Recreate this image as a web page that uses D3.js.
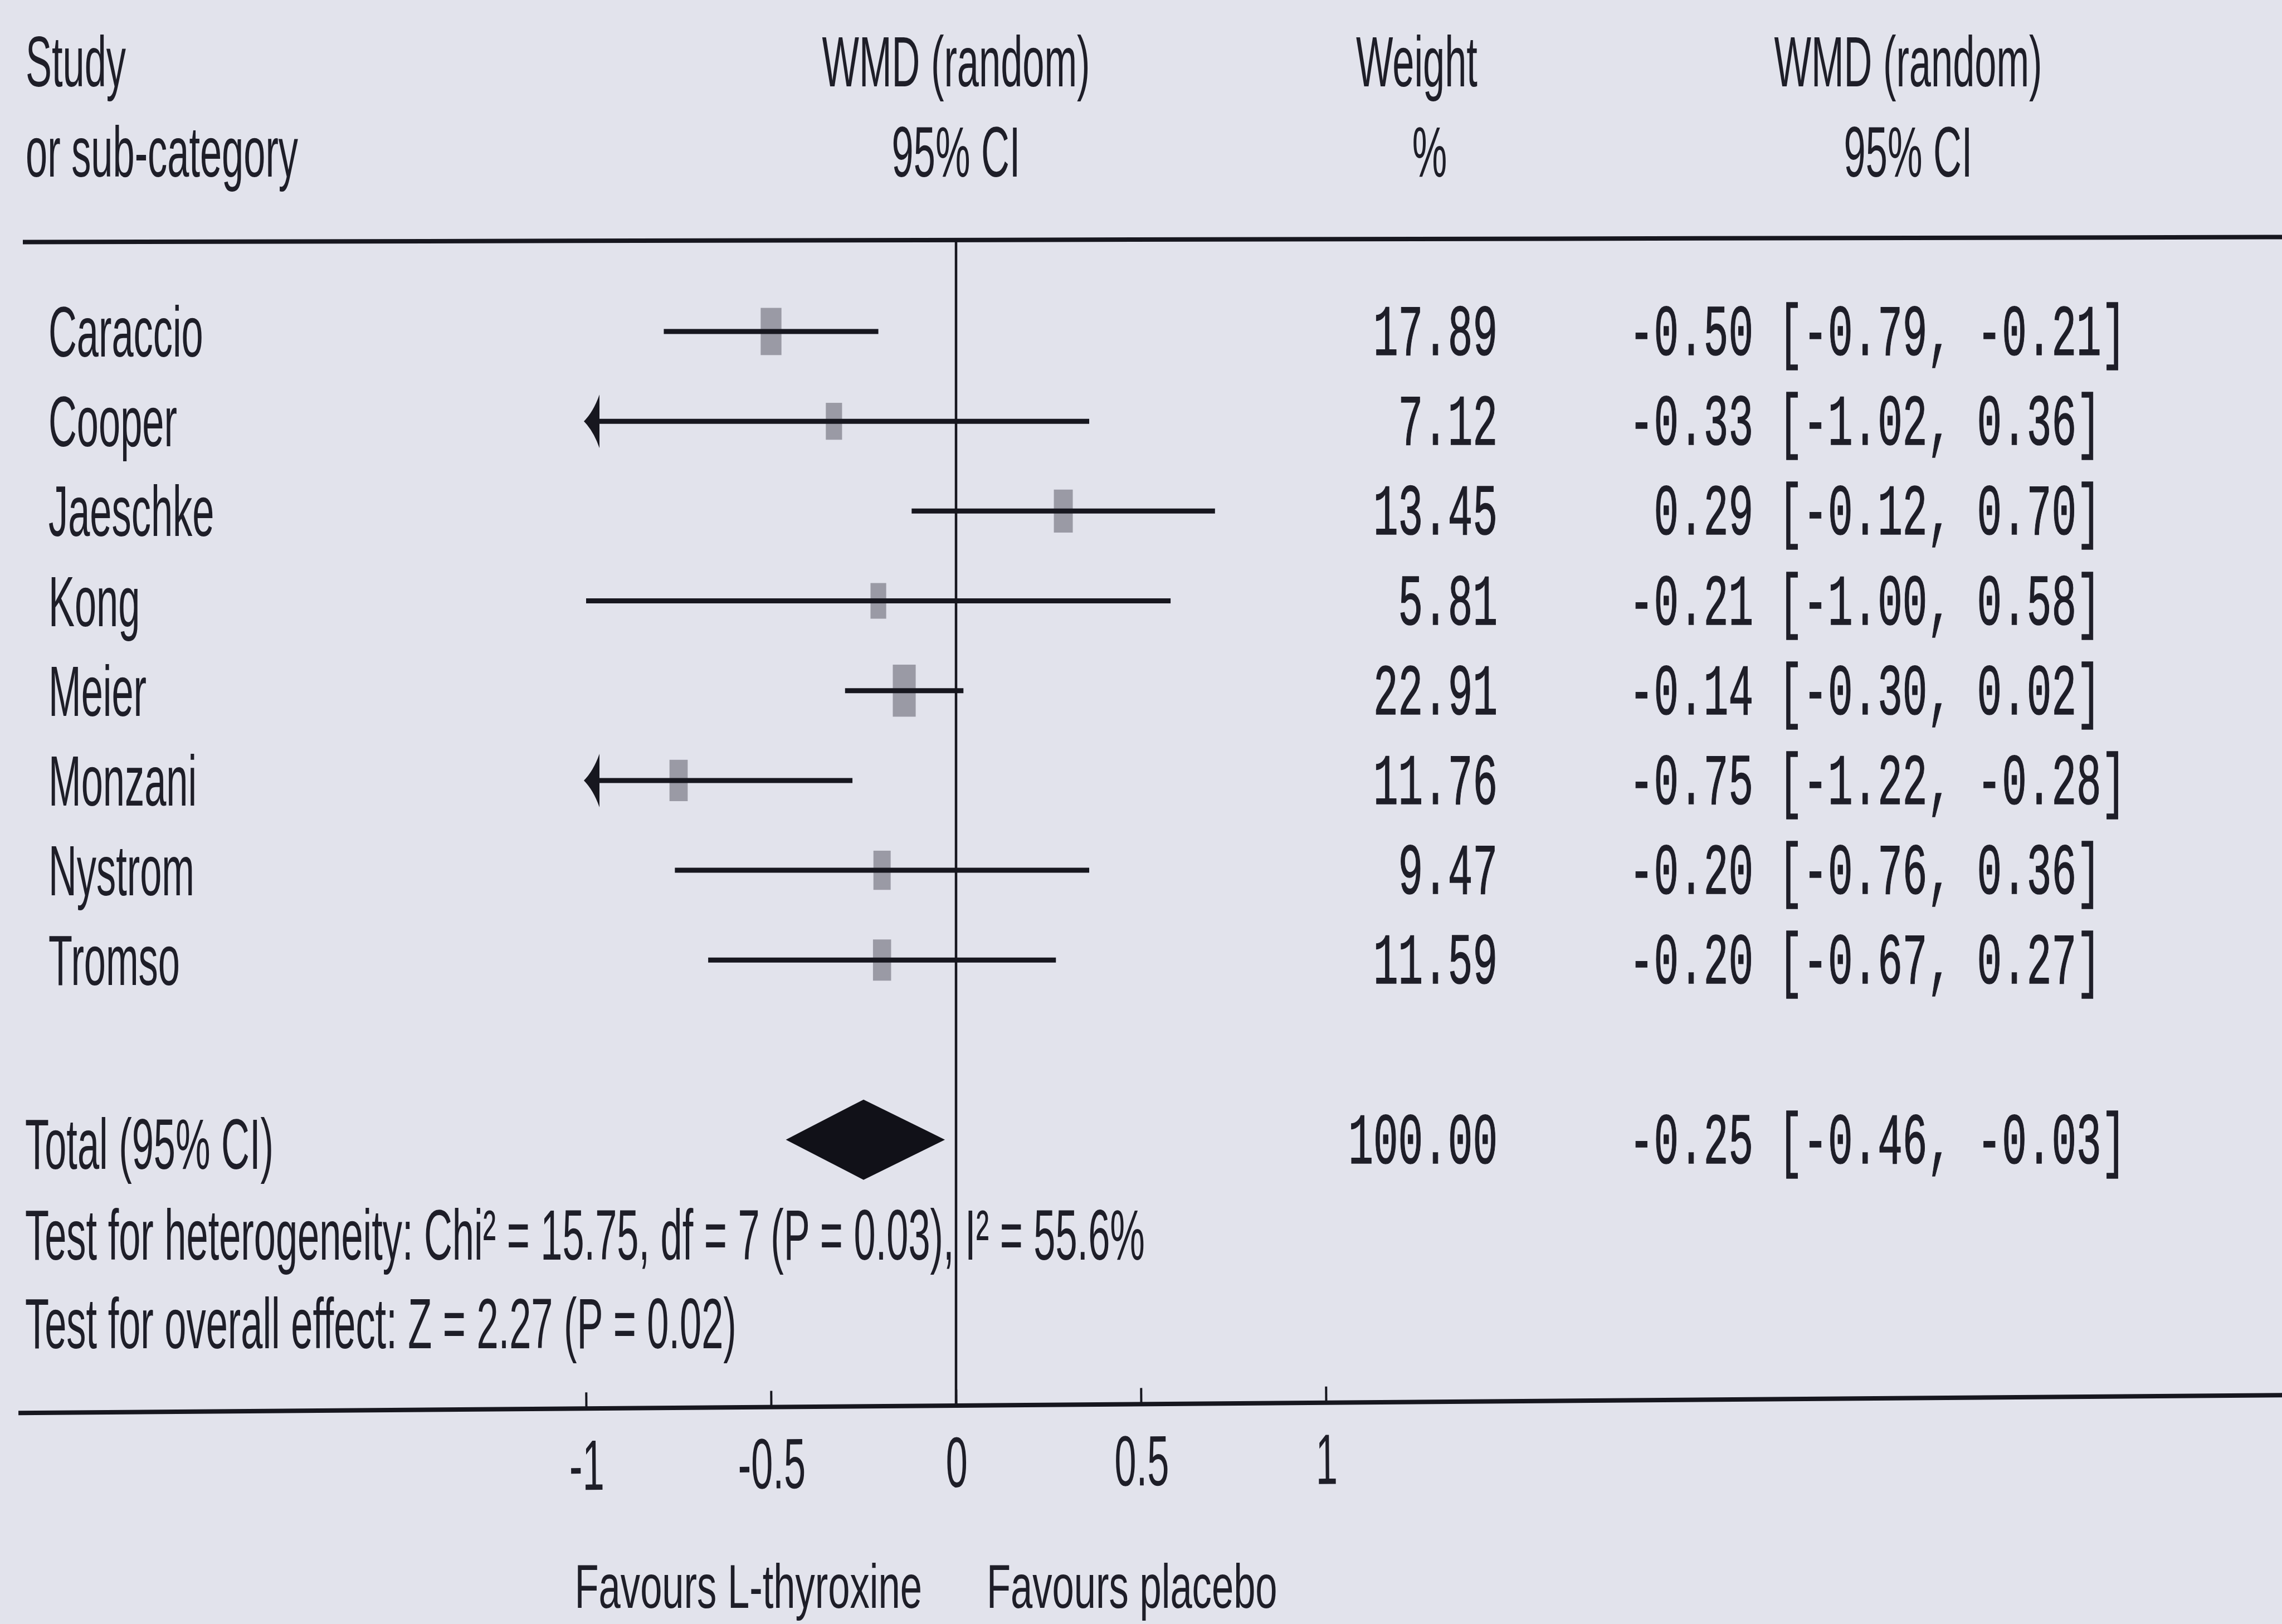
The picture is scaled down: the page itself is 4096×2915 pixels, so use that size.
<!DOCTYPE html>
<html>
<head>
<meta charset="utf-8">
<script src="https://cdn.jsdelivr.net/npm/d3@7"></script>
<style>
  html, body { margin: 0; padding: 0; background: #e2e3ec; }
  svg { display: block; }
  text { font-family: "Liberation Sans", Arial, sans-serif; fill: #1e1e28; }
  text.mono { font-family: "Liberation Mono", "Courier New", monospace; white-space: pre; stroke: #1e1e28; stroke-width: 1.6; }
</style>
</head>
<body>
<script>
// ---- data ----
const studies   = ["Caraccio", "Cooper", "Jaeschke", "Kong", "Meier", "Monzani", "Nystrom", "Tromso"];
const estimates = [-0.50, -0.33, 0.29, -0.21, -0.14, -0.75, -0.20, -0.20];
const lowerCI   = [-0.79, -1.02, -0.12, -1.00, -0.30, -1.22, -0.76, -0.67];
const upperCI   = [-0.21, 0.36, 0.70, 0.58, 0.02, -0.28, 0.36, 0.27];
const weights   = [17.89, 7.12, 13.45, 5.81, 22.91, 11.76, 9.47, 11.59];

const totalLabel = "Total (95% CI)";
const totalWeight = 100.00;
const totalEstimate = -0.25;
const totalLower = -0.46;
const totalUpper = -0.03;

const heterogeneityText = "Test for heterogeneity: Chi\u00B2 = 15.75, df = 7 (P = 0.03), I\u00B2 = 55.6%";
const overallEffectText = "Test for overall effect: Z = 2.27 (P = 0.02)";

const tickValues = [-1, -0.5, 0, 0.5, 1];
const headerLeft = ["Study", "or sub-category"];
const headerPlot = ["WMD (random)", "95% CI"];
const headerWeight = ["Weight", "%"];
const headerEffect = ["WMD (random)", "95% CI"];
const favoursLeft = "Favours L-thyroxine";
const favoursRight = "Favours placebo";

// ---- layout ----
const W = 4096, H = 2915;
const ink = "#17171f";

const loc = d3.formatLocale({decimal: ".", thousands: ",", grouping: [3], currency: ["", ""], minus: "-"});
const fmt2 = loc.format(".2f");
const fmtEst = loc.format("5.2f");
const fmtTick = loc.format("");

const x = d3.scaleLinear().domain([-1, 1]).range([1052, 2380]);
const yRow = d3.scaleLinear().domain([0, 11]).range([595, 2368]);
const boxH = d3.scaleLinear().domain([0, 25]).range([54, 97]);

const svg = d3.select("body").append("svg").attr("width", W).attr("height", H);
svg.append("rect").attr("width", W).attr("height", H).attr("fill", "#e2e3ec");

function sans(str, px, py, anchor = "start", size = 128, sx = 0.55) {
  return svg.append("text")
    .attr("transform", `translate(${px},${py}) scale(${sx},1)`)
    .attr("text-anchor", anchor)
    .attr("font-size", size)
    .text(str);
}
function mono(str, px, py, anchor = "start") {
  return svg.append("text").attr("class", "mono")
    .attr("xml:space", "preserve")
    .attr("transform", `translate(${px},${py}) scale(0.572,1)`)
    .attr("text-anchor", anchor)
    .attr("font-size", 130)
    .text(str);
}

// ---- headers ----
sans(headerLeft[0], 46, 155);
sans(headerLeft[1], 46, 317);
sans(headerPlot[0], x(0), 155, "middle");
sans(headerPlot[1], x(0), 317, "middle");
sans(headerWeight[0], 2543, 155, "middle");
sans(headerWeight[1], 2566, 317, "middle");
sans(headerEffect[0], 3425, 155, "middle");
sans(headerEffect[1], 3425, 317, "middle");

// top rule
svg.append("line")
  .attr("x1", 41).attr("y1", 434.5).attr("x2", W).attr("y2", 425.5)
  .attr("stroke", ink).attr("stroke-width", 8);

// ---- axis (slightly tilted rule, ticks above, labels below) ----
const axisY = 2523;
const axisG = svg.append("g")
  .attr("transform", `rotate(-0.45, ${x(0)}, ${axisY}) translate(0, ${axisY})`);
axisG.append("line")
  .attr("x1", 33).attr("x2", W + 20).attr("y1", 0).attr("y2", 0)
  .attr("stroke", ink).attr("stroke-width", 8);
axisG.call(
  d3.axisBottom(x).tickValues(tickValues).tickFormat(fmtTick)
    .tickSizeInner(-29).tickSizeOuter(0).tickPadding(55)
);
axisG.select(".domain").remove();
axisG.selectAll(".tick line").attr("stroke", ink).attr("stroke-width", 4);
axisG.selectAll(".tick text")
  .attr("font-size", 128)
  .attr("font-family", "\"Liberation Sans\", Arial, sans-serif")
  .attr("fill", "#1e1e28")
  .attr("transform", "scale(0.55,1)");

// zero line
svg.append("line")
  .attr("x1", x(0)).attr("x2", x(0)).attr("y1", 431).attr("y2", axisY)
  .attr("stroke", ink).attr("stroke-width", 4.5);

// ---- study rows ----
const rows = studies.map((s, i) => ({
  name: s, est: estimates[i], lo: lowerCI[i], hi: upperCI[i], w: weights[i], y: yRow(i)
}));

// weight boxes
svg.selectAll("rect.box").data(rows).enter().append("rect")
  .attr("class", "box")
  .attr("x", d => x(d.est) - boxH(d.w) * 0.22)
  .attr("y", d => d.y - boxH(d.w) / 2)
  .attr("width", d => boxH(d.w) * 0.44)
  .attr("height", d => boxH(d.w))
  .attr("fill", "#9a9aa5");

// confidence interval lines, clipped to the axis range
const [xMin, xMax] = x.domain();
svg.selectAll("line.ci").data(rows).enter().append("line")
  .attr("class", "ci")
  .attr("x1", d => x(Math.max(d.lo, xMin)))
  .attr("x2", d => x(Math.min(d.hi, xMax)))
  .attr("y1", d => d.y).attr("y2", d => d.y)
  .attr("stroke", ink).attr("stroke-width", 9);

// arrowheads for intervals running off the scale
function arrowPath(tipX, y, dir) {
  const back = tipX + dir * 28;
  return `M${tipX},${y} Q${tipX + dir * 17},${y - 17} ${back},${y - 48} L${back},${y + 48} Q${tipX + dir * 17},${y + 17} ${tipX},${y} Z`;
}
svg.selectAll("path.arrowL").data(rows.filter(d => d.lo < xMin)).enter().append("path")
  .attr("class", "arrowL")
  .attr("d", d => arrowPath(x(xMin) - 4, d.y, 1))
  .attr("fill", ink);
svg.selectAll("path.arrowR").data(rows.filter(d => d.hi > xMax)).enter().append("path")
  .attr("class", "arrowR")
  .attr("d", d => arrowPath(x(xMax) + 4, d.y, -1))
  .attr("fill", ink);

// row labels and numbers
rows.forEach(d => {
  sans(d.name, 87, d.y + 45);
  mono(fmt2(d.w), 2688, d.y + 42, "end");
  mono(`${fmtEst(d.est)} [${fmt2(d.lo)}, ${fmt2(d.hi)}]`, 2924, d.y + 42);
});

// ---- pooled estimate ----
const yTot = yRow(9);
svg.append("path")
  .attr("d", `M${x(totalLower)},${yTot} L${x(totalEstimate)},${yTot - 72} L${x(totalUpper)},${yTot} L${x(totalEstimate)},${yTot + 72} Z`)
  .attr("fill", "#111118");

sans(totalLabel, 45, yTot + 52);
mono(fmt2(totalWeight), 2688, yTot + 42, "end");
mono(`${fmtEst(totalEstimate)} [${fmt2(totalLower)}, ${fmt2(totalUpper)}]`, 2924, yTot + 42);

sans(heterogeneityText, 45, 2261);
sans(overallEffectText, 45, 2420);

// ---- favours labels ----
sans(favoursLeft, x(0) - 61, 2886, "end", 112, 0.63);
sans(favoursRight, x(0) + 55, 2886, "start", 112, 0.63);
</script>
</body>
</html>
